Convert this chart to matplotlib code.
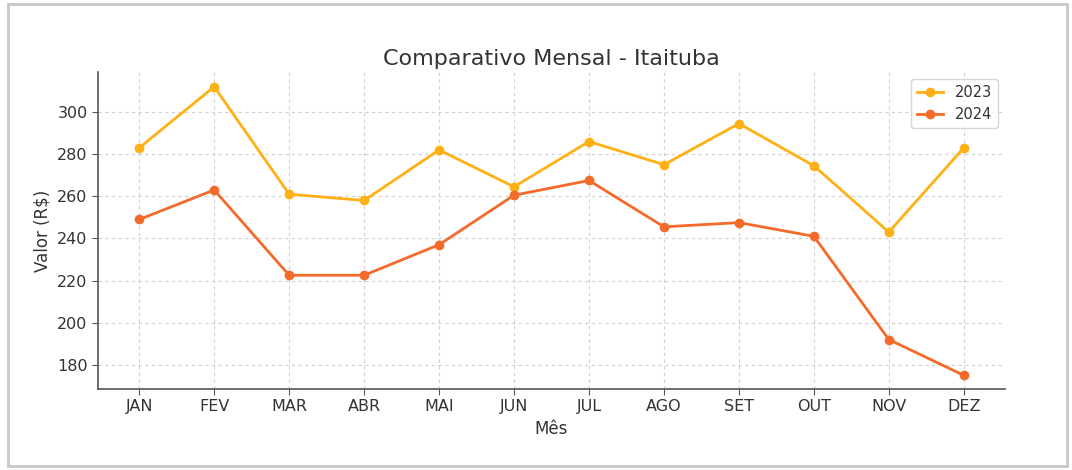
import matplotlib
matplotlib.use("Agg")
import matplotlib.pyplot as plt
from matplotlib.patches import Rectangle

meses = ["JAN", "FEV", "MAR", "ABR", "MAI", "JUN", "JUL", "AGO", "SET", "OUT", "NOV", "DEZ"]
valores_2023 = [283, 312, 261, 258, 282, 264.5, 286, 275, 294.5, 274.5, 243, 283]
valores_2024 = [249, 263, 222.5, 222.5, 237, 260.5, 267.5, 245.5, 247.5, 241, 192, 175]

cor_2023 = "#FFB014"
cor_2024 = "#F46A2A"
cor_texto = "#333333"

fig = plt.figure(figsize=(10.72, 4.7), dpi=100)

# moldura clara em volta do grafico
fig.patches.append(Rectangle((0.007, 0.008), 0.988, 0.983, transform=fig.transFigure,
                             fill=False, edgecolor="#c8c8c8", linewidth=2))

ax = fig.add_axes([0.0914, 0.1723, 0.8461, 0.6745])

x = range(len(meses))
ax.plot(x, valores_2023, color=cor_2023, marker="o", markersize=6, linewidth=2, label="2023")
ax.plot(x, valores_2024, color=cor_2024, marker="o", markersize=6, linewidth=2, label="2024")

ax.set_xticks(list(x))
ax.set_xticklabels(meses)
ax.set_ylim(168.5, 319)

ax.grid(True, linestyle=(0, (3, 3)), color="#d0d0d0", linewidth=0.8)
ax.set_axisbelow(True)

for s in ["top", "right"]:
    ax.spines[s].set_visible(False)
for s in ["left", "bottom"]:
    ax.spines[s].set_color("#555555")
    ax.spines[s].set_linewidth(1.2)

ax.tick_params(colors="#555555", labelcolor=cor_texto, labelsize=11.5, length=4)

ax.set_title("Comparativo Mensal - Itaituba", fontsize=16, color=cor_texto, pad=5)
ax.set_xlabel("Mês", fontsize=12, color=cor_texto)
ax.set_ylabel("Valor (R$)", fontsize=12, color=cor_texto)

leg = ax.legend(loc="upper right", fontsize=10.5, frameon=True, borderaxespad=0.5,
                handlelength=1.8)
leg.get_frame().set_edgecolor("#cccccc")
for t in leg.get_texts():
    t.set_color(cor_texto)

fig.savefig("out.png", dpi=100)
